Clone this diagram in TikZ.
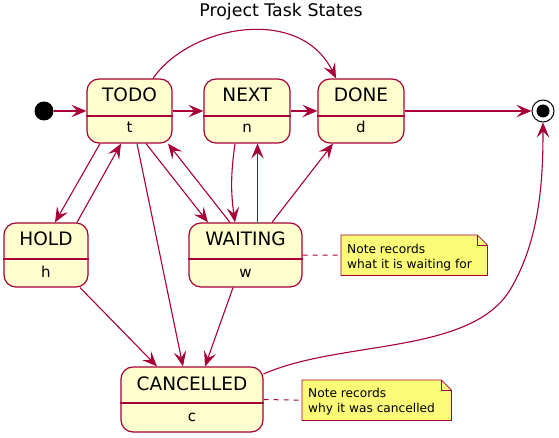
\documentclass[tikz,border=0pt]{standalone}
\usepackage{fontspec}
\setmainfont{DejaVu Sans}
\usepackage{tikz}
\usetikzlibrary{arrows.meta, positioning, calc}
\definecolor{umlred}{HTML}{A80036}
\definecolor{umlcream}{HTML}{FEFECE}
\definecolor{umlnote}{HTML}{FBFB77}
\tikzset{
  statebox/.style={draw=umlred, fill=umlcream, line width=1.2pt, rounded corners=12pt, minimum height=64pt, inner sep=0pt},
  statename/.style={font=\fontsize{18.5}{20}\selectfont, anchor=base, inner sep=0pt},
  statesub/.style={font=\fontsize{15}{17}\selectfont, anchor=base, inner sep=0pt},
  divider/.style={draw=umlred, line width=1.2pt},
  trans/.style={draw=umlred, line width=1.1pt, -{Stealth[length=15pt, width=12.5pt, inset=6pt]}},
  notelink/.style={draw=umlred, line width=1pt, dash pattern=on 5pt off 5pt},
  notebox/.style={inner sep=0pt, minimum height=40pt, anchor=north west},
  noteframe/.style={draw=umlred, fill=umlnote, line width=0.8pt},
  notetext/.style={font=\fontsize{12.2}{14}\selectfont, anchor=base west, inner sep=0pt},
}

\begin{document}
\begin{tikzpicture}[x=1pt, y=-1pt]
  \useasboundingbox (0,0) rectangle (559,438);

  % Title
  \node[font=\fontsize{17.4}{19}\selectfont, anchor=base, inner sep=0pt] (title) at (281,17) {Project Task States};

  % Pseudo states
  \node[circle, fill=black, minimum size=19pt, inner sep=0pt] (init) at (44,111) {};
  \node[circle, draw=black, fill=white, line width=1pt, minimum size=22pt, inner sep=0pt] (final) at (543,111) {};
  \fill[black] (final) circle (6.5);

  % States
  \node[statebox, minimum width=85pt] (todo) at (129.5,111) {};
  \draw[divider] (todo.west |- 0,116) -- (todo.east |- 0,116);
  \node[statename] (todoname) at (129.5,102) {TODO};
  \node[statesub] (todosub) at (129.5,133) {t};

  \node[statebox, minimum width=86pt] (next) at (247,111) {};
  \draw[divider] (next.west |- 0,116) -- (next.east |- 0,116);
  \node[statename] (nextname) at (247,102) {NEXT};
  \node[statesub] (nextsub) at (247,133) {n};

  \node[statebox, minimum width=86pt] (done) at (361,111) {};
  \draw[divider] (done.west |- 0,116) -- (done.east |- 0,116);
  \node[statename] (donename) at (361,102) {DONE};
  \node[statesub] (donesub) at (361,133) {d};

  \node[statebox, minimum width=84pt] (hold) at (46,255) {};
  \draw[divider] (hold.west |- 0,259) -- (hold.east |- 0,259);
  \node[statename] (holdname) at (46,246) {HOLD};
  \node[statesub] (holdsub) at (46,277) {h};

  \node[statebox, minimum width=113pt] (wait) at (245.5,255) {};
  \draw[divider] (wait.west |- 0,259) -- (wait.east |- 0,259);
  \node[statename] (waitname) at (245.5,246) {WAITING};
  \node[statesub] (waitsub) at (245.5,277) {w};

  \node[statebox, minimum width=142pt, minimum height=65pt] (cancel) at (192,399.5) {};
  \draw[divider] (cancel.west |- 0,403) -- (cancel.east |- 0,403);
  \node[statename] (cancelname) at (192,390) {CANCELLED};
  \node[statesub] (cancelsub) at (192,421) {c};

  % Notes
  \node[notebox, minimum width=146pt] (waitnote) at (341,235) {};
  \filldraw[noteframe] (waitnote.north west) -- ([xshift=-10pt]waitnote.north east) -- ([yshift=-10pt]waitnote.north east) -- (waitnote.south east) -- (waitnote.south west) -- cycle;
  \draw[noteframe, fill=none] ([xshift=-10pt]waitnote.north east) |- ([yshift=-10pt]waitnote.north east);
  \node[notetext] (waitnotea) at (347,254) {Note records};
  \node[notetext] (waitnoteb) at (347,268.5) {what it is waiting for};

  \node[notebox, minimum width=149pt] (cancelnote) at (302,380) {};
  \filldraw[noteframe] (cancelnote.north west) -- ([xshift=-10pt]cancelnote.north east) -- ([yshift=-10pt]cancelnote.north east) -- (cancelnote.south east) -- (cancelnote.south west) -- cycle;
  \draw[noteframe, fill=none] ([xshift=-10pt]cancelnote.north east) |- ([yshift=-10pt]cancelnote.north east);
  \node[notetext] (cancelnotea) at (308,397) {Note records};
  \node[notetext] (cancelnoteb) at (308,412) {why it was cancelled};

  \draw[notelink] (wait.east) -- (waitnote.west);
  \draw[notelink] (cancel.east) -- (cancelnote.west);

  % Transitions
  \draw[trans] (init) -- (todo);
  \draw[trans] (todo) -- (next);
  \draw[trans] (next) -- (done);
  \draw[trans] (done) -- (final);
  \draw[trans] (todo.north -| 153,0) .. controls (190,25) and (300,5) .. (done.north -| 336,0);

  \draw[trans] (todo.south -| 100,0) -- (hold.north -| 55,0);
  \draw[trans] (hold.north -| 77,0) -- (todo.south -| 121,0);
  \draw[trans] (todo.south -| 137,0) -- (cancel.north -| 183,0);
  \draw[trans] (todo.south -| 146,0) -- (wait.north -| 208,0);
  \draw[trans] (wait.north -| 230,0) -- (todo.south -| 168,0);
  \draw[trans] (next.south -| 235,0) to[bend right=8] (wait.north -| 235,0);
  \draw[trans] (wait.north -| 257.5,0) -- (next.south -| 257.5,0);
  \draw[trans] (wait.north -| 272,0) -- (done.south -| 333,0);

  \draw[trans] (hold.south -| 80,0) -- (cancel.north -| 157,0);
  \draw[trans] (wait.south -| 233,0) -- (cancel.north -| 205,0);
  \draw[trans] (cancel.east |- 0,374) .. controls (340,340) and (470,355) .. (510,290) .. controls (540,240) and (543,180) .. (final.south);
\end{tikzpicture}
\end{document}
